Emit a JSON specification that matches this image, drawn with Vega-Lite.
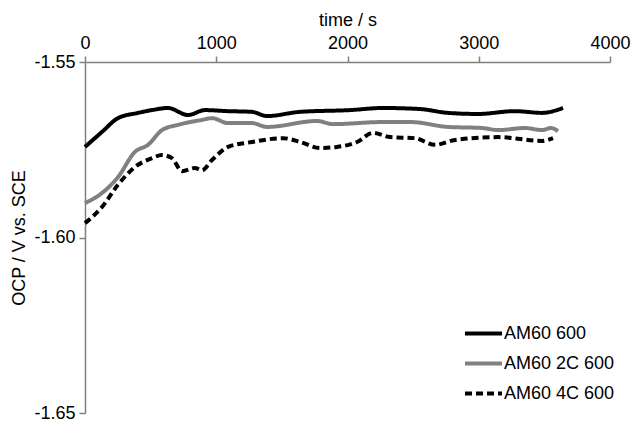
{
  "$schema": "https://vega.github.io/schema/vega-lite/v6.json",
  "width": 525,
  "height": 351,
  "autosize": "none",
  "padding": {"left": 85, "top": 62, "right": 23, "bottom": 10},
  "background": "white",
  "config": {
    "view": {"stroke": null},
    "font": "Liberation Sans",
    "axis": {"grid": false, "domainColor": "#808080", "tickColor": "#808080", "domainWidth": 1.5, "tickWidth": 1.5, "labelColor": "black", "titleColor": "black", "labelFont": "Liberation Sans", "titleFont": "Liberation Sans", "labelFontSize": 18, "titleFontSize": 18, "titleFontWeight": "normal", "tickSize": 6, "labelPadding": 4}
  },
  "data": {"values": [
    {"s": "AM60 600", "t": 0, "v": -1.5742},
    {"s": "AM60 600", "t": 130, "v": -1.5699},
    {"s": "AM60 600", "t": 251, "v": -1.5660},
    {"s": "AM60 600", "t": 404, "v": -1.5645},
    {"s": "AM60 600", "t": 510, "v": -1.5637},
    {"s": "AM60 600", "t": 632, "v": -1.5631},
    {"s": "AM60 600", "t": 785, "v": -1.5651},
    {"s": "AM60 600", "t": 914, "v": -1.5637},
    {"s": "AM60 600", "t": 1090, "v": -1.5640},
    {"s": "AM60 600", "t": 1272, "v": -1.5642},
    {"s": "AM60 600", "t": 1387, "v": -1.5654},
    {"s": "AM60 600", "t": 1638, "v": -1.5642},
    {"s": "AM60 600", "t": 2019, "v": -1.5637},
    {"s": "AM60 600", "t": 2270, "v": -1.5631},
    {"s": "AM60 600", "t": 2552, "v": -1.5634},
    {"s": "AM60 600", "t": 2766, "v": -1.5645},
    {"s": "AM60 600", "t": 2994, "v": -1.5648},
    {"s": "AM60 600", "t": 3276, "v": -1.5640},
    {"s": "AM60 600", "t": 3482, "v": -1.5645},
    {"s": "AM60 600", "t": 3642, "v": -1.5631},
    {"s": "AM60 2C 600", "t": 0, "v": -1.5902},
    {"s": "AM60 2C 600", "t": 130, "v": -1.5873},
    {"s": "AM60 2C 600", "t": 251, "v": -1.5828},
    {"s": "AM60 2C 600", "t": 381, "v": -1.5756},
    {"s": "AM60 2C 600", "t": 480, "v": -1.5736},
    {"s": "AM60 2C 600", "t": 587, "v": -1.5694},
    {"s": "AM60 2C 600", "t": 709, "v": -1.5679},
    {"s": "AM60 2C 600", "t": 891, "v": -1.5665},
    {"s": "AM60 2C 600", "t": 968, "v": -1.5660},
    {"s": "AM60 2C 600", "t": 1090, "v": -1.5674},
    {"s": "AM60 2C 600", "t": 1272, "v": -1.5674},
    {"s": "AM60 2C 600", "t": 1387, "v": -1.5685},
    {"s": "AM60 2C 600", "t": 1768, "v": -1.5668},
    {"s": "AM60 2C 600", "t": 1890, "v": -1.5677},
    {"s": "AM60 2C 600", "t": 2270, "v": -1.5671},
    {"s": "AM60 2C 600", "t": 2480, "v": -1.5671},
    {"s": "AM60 2C 600", "t": 2766, "v": -1.5685},
    {"s": "AM60 2C 600", "t": 3025, "v": -1.5688},
    {"s": "AM60 2C 600", "t": 3147, "v": -1.5694},
    {"s": "AM60 2C 600", "t": 3352, "v": -1.5688},
    {"s": "AM60 2C 600", "t": 3482, "v": -1.5694},
    {"s": "AM60 2C 600", "t": 3550, "v": -1.5688},
    {"s": "AM60 2C 600", "t": 3604, "v": -1.5697},
    {"s": "AM60 4C 600", "t": 0, "v": -1.5959},
    {"s": "AM60 4C 600", "t": 130, "v": -1.5913},
    {"s": "AM60 4C 600", "t": 251, "v": -1.5850},
    {"s": "AM60 4C 600", "t": 381, "v": -1.5799},
    {"s": "AM60 4C 600", "t": 510, "v": -1.5774},
    {"s": "AM60 4C 600", "t": 587, "v": -1.5765},
    {"s": "AM60 4C 600", "t": 663, "v": -1.5774},
    {"s": "AM60 4C 600", "t": 739, "v": -1.5811},
    {"s": "AM60 4C 600", "t": 838, "v": -1.5802},
    {"s": "AM60 4C 600", "t": 891, "v": -1.5808},
    {"s": "AM60 4C 600", "t": 968, "v": -1.5779},
    {"s": "AM60 4C 600", "t": 1090, "v": -1.5742},
    {"s": "AM60 4C 600", "t": 1272, "v": -1.5728},
    {"s": "AM60 4C 600", "t": 1509, "v": -1.5717},
    {"s": "AM60 4C 600", "t": 1640, "v": -1.5728},
    {"s": "AM60 4C 600", "t": 1790, "v": -1.5745},
    {"s": "AM60 4C 600", "t": 1920, "v": -1.5742},
    {"s": "AM60 4C 600", "t": 2072, "v": -1.5728},
    {"s": "AM60 4C 600", "t": 2194, "v": -1.5702},
    {"s": "AM60 4C 600", "t": 2324, "v": -1.5714},
    {"s": "AM60 4C 600", "t": 2514, "v": -1.5717},
    {"s": "AM60 4C 600", "t": 2667, "v": -1.5736},
    {"s": "AM60 4C 600", "t": 2819, "v": -1.5722},
    {"s": "AM60 4C 600", "t": 3147, "v": -1.5714},
    {"s": "AM60 4C 600", "t": 3482, "v": -1.5725},
    {"s": "AM60 4C 600", "t": 3566, "v": -1.5717}
  ]},
  "mark": {"type": "line", "strokeWidth": 4, "strokeCap": "butt", "interpolate": "monotone"},
  "encoding": {
    "x": {"field": "t", "type": "quantitative", "scale": {"domain": [0, 4000], "nice": false, "zero": false},
      "axis": {"orient": "top", "title": "time / s", "values": [0, 1000, 2000, 3000, 4000], "format": "d", "titlePadding": 5, "labelFlush": false}},
    "y": {"field": "v", "type": "quantitative", "scale": {"domain": [-1.65, -1.55], "nice": false, "zero": false},
      "axis": {"title": "OCP / V vs. SCE", "values": [-1.65, -1.6, -1.55], "labelExpr": "'-' + format(abs(datum.value), '.2f')", "titlePadding": 5, "labelFlush": false}},
    "color": {"field": "s", "type": "nominal", "scale": {"domain": ["AM60 600", "AM60 2C 600", "AM60 4C 600"], "range": ["#000000", "#808080", "#000000"]},
      "legend": {"title": null, "orient": "none", "legendX": 378, "legendY": 251, "padding": 0, "symbolType": "stroke", "symbolSize": 1369, "symbolStrokeWidth": 4, "labelFontSize": 18, "labelFont": "Liberation Sans", "labelColor": "black", "labelOffset": 0, "rowPadding": 0}},
    "strokeDash": {"field": "s", "type": "nominal", "scale": {"domain": ["AM60 600", "AM60 2C 600", "AM60 4C 600"], "range": [[1, 0], [1, 0], [7, 4]]}, "legend": {"title": null}}
  }
}
